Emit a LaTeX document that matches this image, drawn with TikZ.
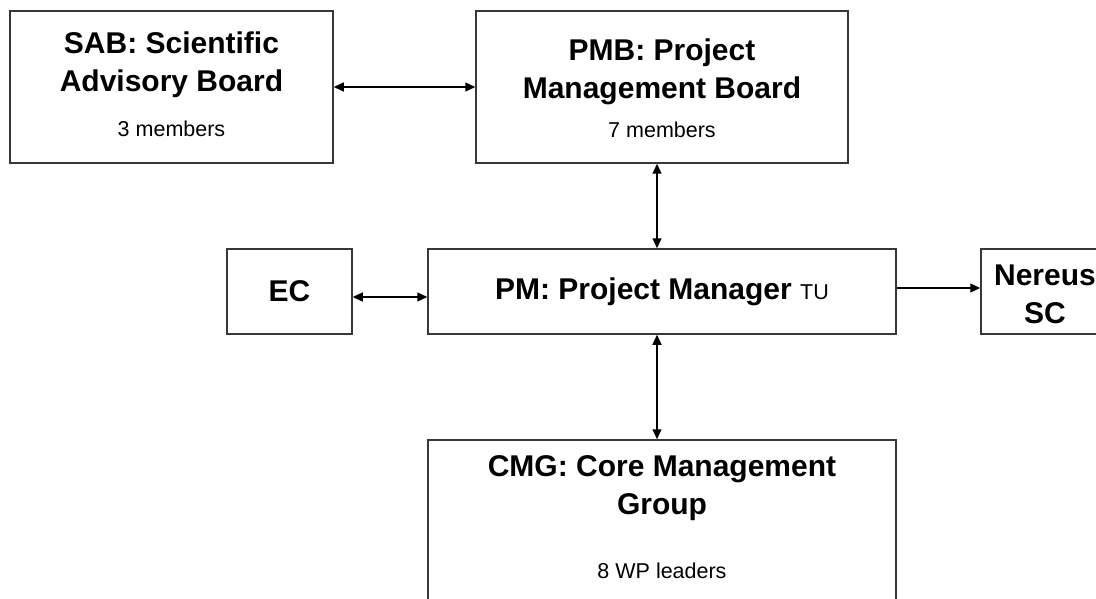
\documentclass[tikz,border=0pt]{standalone}
\usepackage{fontspec}
\setmainfont{Liberation Sans}
\usepackage{tikz}
\usetikzlibrary{arrows.meta,positioning}

\begin{document}
\begin{tikzpicture}[x=1pt, y=-1pt]
                \tikzstyle{box}=[draw=black!78, line width=1.5pt, inner sep=0pt, align=center, node distance=200pt]
                \tikzstyle{title}=[inner sep=0pt, align=center, anchor=base, font=\fontsize{30}{38}\selectfont\bfseries]
                \tikzstyle{small}=[inner sep=0pt, anchor=base, font=\fontsize{21.5}{25}\selectfont]
                \tikzstyle{edge}=[{Triangle[length=10pt,width=9pt]}-{Triangle[length=10pt,width=9pt]}, line width=1.3pt]
                \tikzstyle{oneway}=[edge, -{Triangle[length=10pt,width=9pt]}]

                \useasboundingbox (0,0) rectangle (1096,599);
                \clip (0,0) rectangle (1096,599);

                \node[box, minimum width=468pt, minimum height=85pt, font=\fontsize{30}{38}\selectfont\bfseries] (pm) at (662,291.5) {PM: Project Manager {\mdseries\fontsize{21.5}{25}\selectfont TU}};
                \node[box, minimum width=372pt, minimum height=152pt, above of=pm, node distance=204.5pt] (pmb) {};
                \node[box, minimum width=323pt, minimum height=152pt, left of=pmb, node distance=490.5pt] (sab) {};
                \node[box, minimum width=468pt, minimum height=180pt, below of=pm, node distance=238.5pt] (cmg) {};
                \node[box, minimum width=125pt, minimum height=85pt, left of=pm, node distance=372.5pt, font=\fontsize{30}{38}\selectfont\bfseries] (ec) {EC};
                \node[box, minimum width=128pt, minimum height=85pt, right of=pm, node distance=383pt] (ne) {};

                \node[title] at ([yshift=-81pt]sab.north) {SAB: Scientific\\Advisory Board};
                \node[small] at ([yshift=-126pt]sab.north) {3 members};
                \node[title] at ([yshift=-88pt]pmb.north) {PMB: Project\\Management Board};
                \node[small] at ([yshift=-127pt]pmb.north) {7 members};
                \node[title] at ([yshift=-75pt]cmg.north) {CMG: Core Management\\Group};
                \node[small] at ([yshift=-139pt]cmg.north) {8 WP leaders};
                \node[title] at ([yshift=-75pt]ne.north) {Nereus\\SC};

                \draw[edge] (sab) -- (pmb);
                \draw[edge] ([xshift=-5pt]pmb.south) -- ([xshift=-5pt]pm.north);
                \draw[edge] ([xshift=-5pt]pm.south) -- ([xshift=-5pt]cmg.north);
                \draw[edge] ([yshift=-5.5pt]ec.east) -- ([yshift=-5.5pt]pm.west);
                \draw[oneway] ([yshift=3.5pt]pm.east) -- ([yshift=3.5pt]ne.west);
            \end{tikzpicture}
\end{document}
